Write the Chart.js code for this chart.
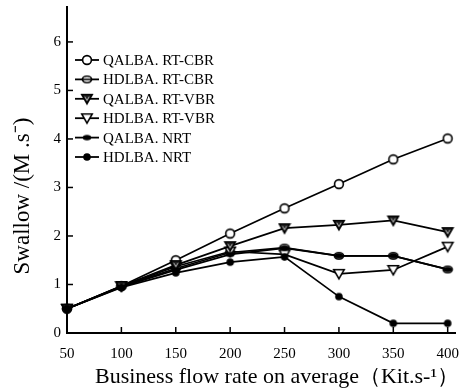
<!DOCTYPE html>
<html>
<head>
<meta charset="utf-8">
<script src="https://cdn.jsdelivr.net/npm/chart.js@4.4.1/dist/chart.umd.min.js"></script>
<style>
  html, body { margin: 0; padding: 0; background: #fff; }
  #wrap { width: 462px; height: 389px; }
</style>
</head>
<body>
<div id="wrap"><canvas id="flowChart"></canvas></div>
<script>
// Business flow rate on average (Kit/s)
const rates = [50, 100, 150, 200, 250, 300, 350, 400];

// Swallow values per algorithm
const qalbaRtCbr = [0.5, 0.97, 1.5, 2.05, 2.57, 3.07, 3.58, 4.01];
const hdlbaRtCbr = [0.5, 0.96, 1.33, 1.66, 1.76, 1.59, 1.59, 1.31];
const qalbaRtVbr = [0.5, 0.97, 1.4, 1.79, 2.16, 2.23, 2.32, 2.08];
const hdlbaRtVbr = [0.5, 0.96, 1.37, 1.68, 1.62, 1.22, 1.3, 1.78];
const qalbaNrt = [0.5, 0.95, 1.3, 1.62, 1.75, 1.59, 1.59, 1.31];
const hdlbaNrt = [0.5, 0.94, 1.24, 1.46, 1.57, 0.75, 0.2, 0.2];

const seriesNames = ["QALBA. RT-CBR", "HDLBA. RT-CBR", "QALBA. RT-VBR", "HDLBA. RT-VBR", "QALBA. NRT", "HDLBA. NRT"];
const yTicks = [0, 1, 2, 3, 4, 5, 6];

const xTitle = "Business flow rate on average（Kit.s-¹）";
const yTitle = "Swallow /(M .s⁻)";

const serif = "'Liberation Serif', 'Times New Roman', serif";

// marker images
function makeMarker(kind) {
  const c = document.createElement("canvas");
  c.width = 14;
  c.height = 14;
  const g = c.getContext("2d");
  g.translate(7, 7);
  g.strokeStyle = "#000";
  g.fillStyle = "#fff";
  g.lineWidth = 1.6;
  if (kind === "circle") {
    g.beginPath();
    g.arc(0, 0, 4.4, 0, Math.PI * 2);
    g.fill();
    g.stroke();
  } else if (kind === "theta") {
    g.beginPath();
    g.ellipse(0, 0, 4.6, 3.2, 0, 0, Math.PI * 2);
    g.fill();
    g.stroke();
    g.beginPath();
    g.moveTo(-4.6, 0);
    g.lineTo(4.6, 0);
    g.stroke();
  } else if (kind === "triFilled" || kind === "triOpen") {
    g.beginPath();
    g.moveTo(-5.2, -4.2);
    g.lineTo(5.2, -4.2);
    g.lineTo(0, 4.8);
    g.closePath();
    g.fillStyle = kind === "triFilled" ? "#222" : "#fff";
    g.fill();
    g.stroke();
    if (kind === "triFilled") {
      g.strokeStyle = "#bbb";
      g.lineWidth = 1;
      g.beginPath();
      g.moveTo(-2.2, -2.2);
      g.lineTo(0, 1.6);
      g.lineTo(2.2, -2.2);
      g.stroke();
    }
  } else if (kind === "ellipseFilled") {
    g.fillStyle = "#000";
    g.beginPath();
    g.ellipse(0, 0, 4.2, 2.8, 0, 0, Math.PI * 2);
    g.fill();
  } else {
    g.fillStyle = "#000";
    g.beginPath();
    g.arc(0, 0, 3.8, 0, Math.PI * 2);
    g.fill();
  }
  return c;
}

const markerKinds = ["circle", "theta", "triFilled", "triOpen", "ellipseFilled", "dot"];
// lower order = drawn on top
const drawOrder = [6, 5, 2, 4, 3, 1];
const markers = markerKinds.map(makeMarker);
const seriesData = [qalbaRtCbr, hdlbaRtCbr, qalbaRtVbr, hdlbaRtVbr, qalbaNrt, hdlbaNrt];

// legend drawn inside the plot, top-left
const innerLegend = {
  id: "innerLegend",
  afterDatasetsDraw(chart) {
    const ctx = chart.ctx;
    ctx.save();
    ctx.font = "15px " + serif;
    ctx.textBaseline = "middle";
    ctx.fillStyle = "#000";
    chart.data.datasets.forEach((ds, i) => {
      const y = 60 + i * 19.4;
      ctx.strokeStyle = "#000";
      ctx.lineWidth = 1.8;
      ctx.beginPath();
      ctx.moveTo(75, y);
      ctx.lineTo(99, y);
      ctx.stroke();
      const m = ds.pointStyle;
      ctx.drawImage(m, 87 - m.width / 2, y - m.height / 2);
      ctx.fillText(ds.label, 103, y + 1);
    });
    ctx.restore();
  }
};

// tick marks pointing into the plot, and the axis titles
const axisDecor = {
  id: "axisDecor",
  afterDraw(chart) {
    const ctx = chart.ctx;
    const { x, y } = chart.scales;
    const area = chart.chartArea;
    ctx.save();
    ctx.strokeStyle = "#000";
    ctx.lineWidth = 1.5;
    rates.forEach(v => {
      const px = x.getPixelForValue(v);
      ctx.beginPath();
      ctx.moveTo(px, area.bottom);
      ctx.lineTo(px, area.bottom - 6);
      ctx.stroke();
    });
    yTicks.forEach(v => {
      const py = y.getPixelForValue(v);
      ctx.beginPath();
      ctx.moveTo(area.left, py);
      ctx.lineTo(area.left + 6, py);
      ctx.stroke();
    });

    ctx.fillStyle = "#000";
    ctx.font = "22px " + serif;
    ctx.textAlign = "center";
    ctx.textBaseline = "alphabetic";
    ctx.fillText(xTitle, 277, 383);

    ctx.translate(23, 196);
    ctx.rotate(-Math.PI / 2);
    ctx.font = "23px " + serif;
    ctx.textBaseline = "middle";
    ctx.fillText(yTitle, 0, 0);
    ctx.restore();
  }
};

new Chart(document.getElementById("flowChart"), {
  type: "line",
  data: {
    labels: rates,
    datasets: seriesData.map((d, i) => ({
      label: seriesNames[i],
      data: d,
      order: drawOrder[i],
      borderColor: "#000",
      borderWidth: 1.7,
      pointStyle: markers[i],
      pointRadius: 5,
      tension: 0,
      fill: false
    }))
  },
  options: {
    responsive: true,
    maintainAspectRatio: false,
    animation: false,
    clip: false,
    layout: { padding: { top: 7, right: 4, left: 0, bottom: 0 } },
    plugins: {
      legend: { display: false },
      tooltip: { enabled: false }
    },
    scales: {
      x: {
        type: "linear",
        min: 50,
        max: 407,
        afterBuildTicks: axis => { axis.ticks = rates.map(v => ({ value: v })); },
        afterFit: axis => {
          axis.height = 56;
          axis.paddingLeft = 0;
          axis.paddingRight = 0;
        },
        border: { color: "#000", width: 2 },
        grid: { display: false, drawTicks: false },
        ticks: {
          color: "#000",
          font: { family: serif, size: 15 },
          padding: 12,
          maxRotation: 0,
          autoSkip: false
        }
      },
      y: {
        min: 0,
        max: 6.72,
        afterBuildTicks: axis => { axis.ticks = yTicks.map(v => ({ value: v })); },
        afterFit: axis => {
          axis.width = 67;
          axis.paddingTop = 0;
          axis.paddingBottom = 0;
        },
        border: { color: "#000", width: 2 },
        grid: { display: false, drawTicks: false },
        ticks: {
          color: "#000",
          font: { family: serif, size: 15 },
          padding: 6
        }
      }
    }
  },
  plugins: [innerLegend, axisDecor]
});
</script>
</body>
</html>
